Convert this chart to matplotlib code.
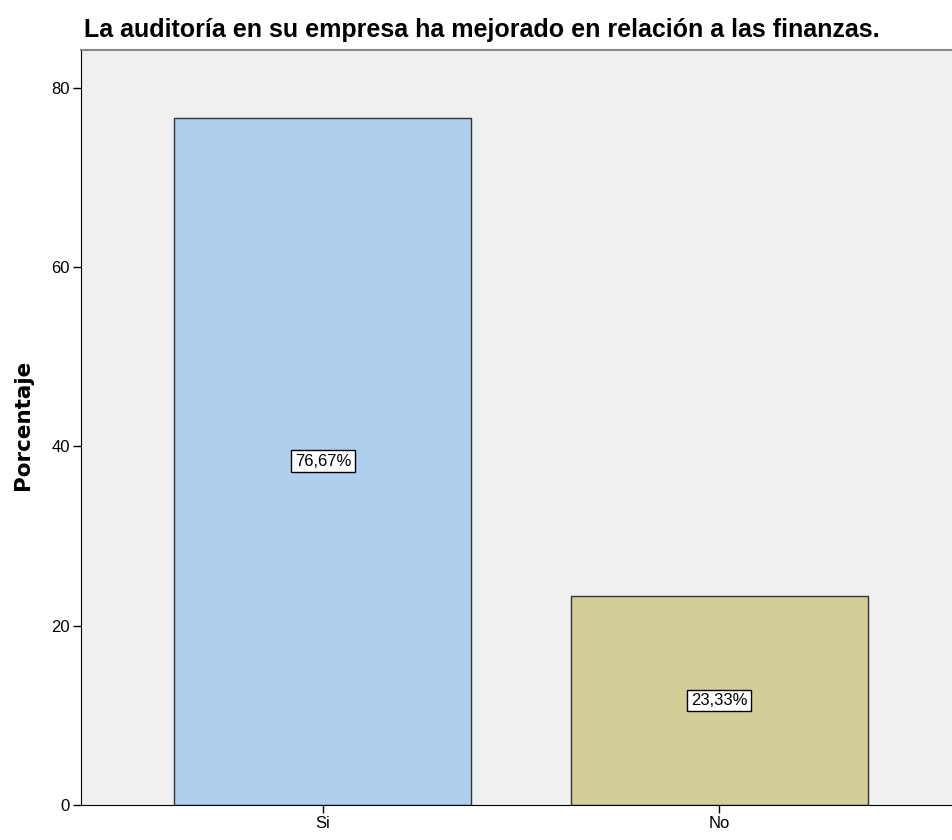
import matplotlib
matplotlib.use("Agg")
import matplotlib.pyplot as plt

categories = ["Si", "No"]
values = [76.67, 23.33]
labels = ["76,67%", "23,33%"]
colors = ["#AECFEE", "#D3CE97"]
yticks = [0, 20, 40, 60, 80]

fam = ["Liberation Sans", "DejaVu Sans"]

fig = plt.figure(figsize=(9.52, 8.4), dpi=100)
W, H = 952, 840
left, right, top, bottom = 81, 961, 50, 805
ax = fig.add_axes([left / W, 1 - bottom / H, (right - left) / W, (bottom - top) / H])
ax.set_facecolor("#F0F0F0")

x = list(range(len(categories)))
ax.bar(x, values, width=0.75, color=colors, edgecolor="#333333", linewidth=1.0, zorder=2)
for xi, v, lab in zip(x, values, labels):
    ax.text(xi, v / 2, lab, ha="center", va="center", fontsize=12, family=fam, stretch="condensed",
            bbox=dict(boxstyle="square,pad=0.2", facecolor="white", edgecolor="black", linewidth=1.0),
            zorder=3)

ax.set_xlim(-0.611, 1.611)
ax.set_ylim(0, 84.2)
ax.set_xticks(x)
ax.set_xticklabels(categories, family=fam, fontsize=12, stretch="condensed")
ax.set_yticks(yticks)
ax.set_yticklabels([str(t) for t in yticks], family=fam, fontsize=12, stretch="condensed")
ax.tick_params(axis="both", direction="out", length=6, width=1, color="black", pad=2)

ax.spines["right"].set_visible(False)
ax.spines["top"].set_color("#888888")
ax.spines["top"].set_linewidth(1.5)
ax.spines["left"].set_color("black")
ax.spines["bottom"].set_color("black")

ax.set_ylabel("Porcentaje", family="DejaVu Sans", fontweight="bold", fontsize=15.5)
ax.yaxis.set_label_coords(-(81 - 33) / (right - left), 0.5 + 3 / (bottom - top))
fig.text(84 / W, 1 - 30 / H, "La auditoría en su empresa ha mejorado en relación a las finanzas.",
         family=fam, stretch="condensed", fontsize=18, fontweight="bold", ha="left", va="center")

fig.savefig("out.png", dpi=100)
